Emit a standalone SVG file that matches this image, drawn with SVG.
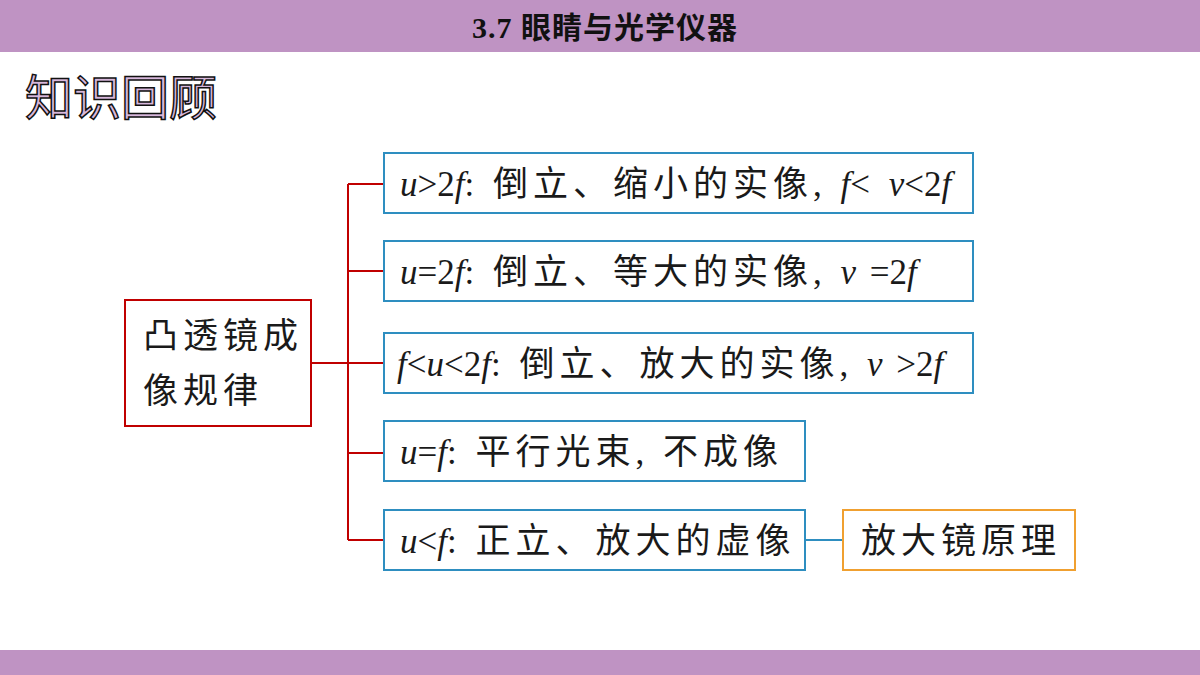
<svg xmlns="http://www.w3.org/2000/svg" width="1200" height="675" viewBox="0 0 1200 675">
<style>
.bar{fill:#BF93C3}
.t{font-family:"Liberation Serif","Noto Sans CJK SC",serif;font-size:35px;fill:#1a1a1a;letter-spacing:5px}
.i{font-style:italic;letter-spacing:0}
.n{letter-spacing:0}
.b{fill:none;stroke:#2E8EC0;stroke-width:2}
.r{fill:none;stroke:#C00000;stroke-width:2}
</style>
<rect width="1200" height="675" fill="#fff"/>
<rect class="bar" x="0" y="0" width="1200" height="52"/>
<rect class="bar" x="0" y="650" width="1200" height="25"/>
<text x="605" y="38" text-anchor="middle" font-family="Liberation Serif,Noto Sans CJK SC,serif" font-weight="bold" font-size="30" letter-spacing="1" fill="#111">3.7  眼睛与光学仪器</text>
<text x="25" y="115" font-family="Noto Sans CJK SC,sans-serif" font-size="48" fill="#D8B8DC" stroke="#111" stroke-width="1.5">知识回顾</text>
<g id="connectors">
<path class="r" d="M311 363H348M348 184V540M348 184H384M348 271H384M348 363H384M348 453H384M348 540H384"/>
<path d="M805 540H843" stroke="#2E8EC0" stroke-width="2"/>
</g>
<g id="root"><rect class="r" x="125" y="300" width="186" height="126"/>
<text class="t" x="143" y="348">凸透镜成</text><text class="t" x="143" y="403">像规律</text></g>
<g id="n1"><rect class="b" x="384" y="153" width="589" height="60"/>
<text class="t" x="400" y="196"><tspan class="i">u</tspan><tspan class="n">&gt;2</tspan><tspan class="i">f</tspan>: 倒立、缩小的实像, <tspan class="i">f</tspan>&lt; <tspan class="i">v</tspan><tspan class="n">&lt;2</tspan><tspan class="i">f</tspan></text></g>
<g id="n2"><rect class="b" x="384" y="241" width="589" height="60"/>
<text class="t" x="400" y="284"><tspan class="i">u</tspan><tspan class="n">=2</tspan><tspan class="i">f</tspan>: 倒立、等大的实像, <tspan class="i">v</tspan> <tspan class="n">=2</tspan><tspan class="i">f</tspan></text></g>
<g id="n3"><rect class="b" x="384" y="333" width="589" height="60"/>
<text class="t" x="397" y="376"><tspan class="i">f</tspan><tspan class="n">&lt;</tspan><tspan class="i">u</tspan><tspan class="n">&lt;2</tspan><tspan class="i">f</tspan>: 倒立、放大的实像, <tspan class="i">v</tspan> <tspan class="n">&gt;2</tspan><tspan class="i">f</tspan></text></g>
<g id="n4"><rect class="b" x="384" y="421" width="421" height="60"/>
<text class="t" x="400" y="464"><tspan class="i">u</tspan><tspan class="n">=</tspan><tspan class="i">f</tspan>: 平行光束, 不成像</text></g>
<g id="n5"><rect class="b" x="384" y="510" width="421" height="60"/>
<text class="t" x="400" y="553"><tspan class="i">u</tspan><tspan class="n">&lt;</tspan><tspan class="i">f</tspan>: 正立、放大的虚像</text></g>
<g id="n6"><rect x="843" y="510" width="232" height="60" fill="none" stroke="#F0A030" stroke-width="2"/>
<text class="t" x="961" y="553" text-anchor="middle">放大镜原理</text></g>
</svg>
